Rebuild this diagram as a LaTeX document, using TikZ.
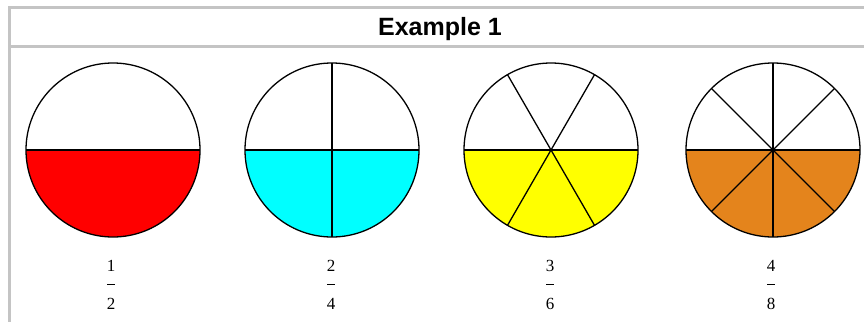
\documentclass[tikz,border=0pt]{standalone}
\usepackage{fontspec}
\setmainfont{Liberation Serif}
\newfontfamily\titlefont{Liberation Sans}
\definecolor{framegray}{RGB}{196,196,196}
\definecolor{pieorange}{RGB}{228,132,28}
\definecolor{piecyan}{RGB}{0,255,255}
\definecolor{pieyellow}{RGB}{255,255,0}
\definecolor{piered}{RGB}{255,0,0}
\tikzset{
  frameline/.style={draw=framegray,line width=3pt},
  pieline/.style={draw=black,line width=1.3pt},
  titletext/.style={font=\titlefont\bfseries\fontsize{25}{28}\selectfont,inner sep=0pt,anchor=base},
  fractext/.style={font=\fontsize{17}{19}\selectfont,inner sep=0pt},
  fracbar/.style={draw=black,line width=0.8pt}
}
\begin{document}
\begin{tikzpicture}[x=1pt,y=1pt]
\useasboundingbox (0,0) rectangle (864,322);
\fill[white] (0,0) rectangle (864,322);
% frame
\draw[frameline] (8,314) -- (864,314);
\draw[frameline] (9.5,315.5) -- (9.5,0);
\draw[frameline] (8,275.5) -- (864,275.5);
\node[titletext] (title) at (440,286) {Example 1};
% pie 1: 1/2
\fill[piered] (113,172) ++(180:87) arc (180:360:87) -- cycle;
\draw[pieline] (113,172) circle (87);
\draw[pieline] (26,172) -- (200,172);
% pie 2: 2/4
\fill[piecyan] (332,172) ++(180:87) arc (180:360:87) -- cycle;
\draw[pieline] (332,172) circle (87);
\draw[pieline] (245,172) -- (419,172);
\draw[pieline] (332,259) -- (332,85);
% pie 3: 3/6
\fill[pieyellow] (551,172) ++(180:87) arc (180:360:87) -- cycle;
\draw[pieline] (551,172) circle (87);
\draw[pieline] (464,172) -- (638,172);
\draw[pieline] (551,172) ++(60:87) -- ++(240:174);
\draw[pieline] (551,172) ++(120:87) -- ++(300:174);
% pie 4: 4/8
\fill[pieorange] (773,172) ++(180:87) arc (180:360:87) -- cycle;
\draw[pieline] (773,172) circle (87);
\draw[pieline] (686,172) -- (860,172);
\draw[pieline] (773,259) -- (773,85);
\draw[pieline] (773,172) ++(45:87) -- ++(225:174);
\draw[pieline] (773,172) ++(135:87) -- ++(315:174);
% fractions
\foreach \x/\n/\d [count=\i] in {111/1/2,331/2/4,550/3/6,771/4/8}{
  \node[fractext] (num\i) at (\x,56) {\n};
  \node[fractext] (den\i) at (\x,18) {\d};
  \draw[fracbar] (\x-4,38) -- (\x+4,38);
}
\end{tikzpicture}
\end{document}
